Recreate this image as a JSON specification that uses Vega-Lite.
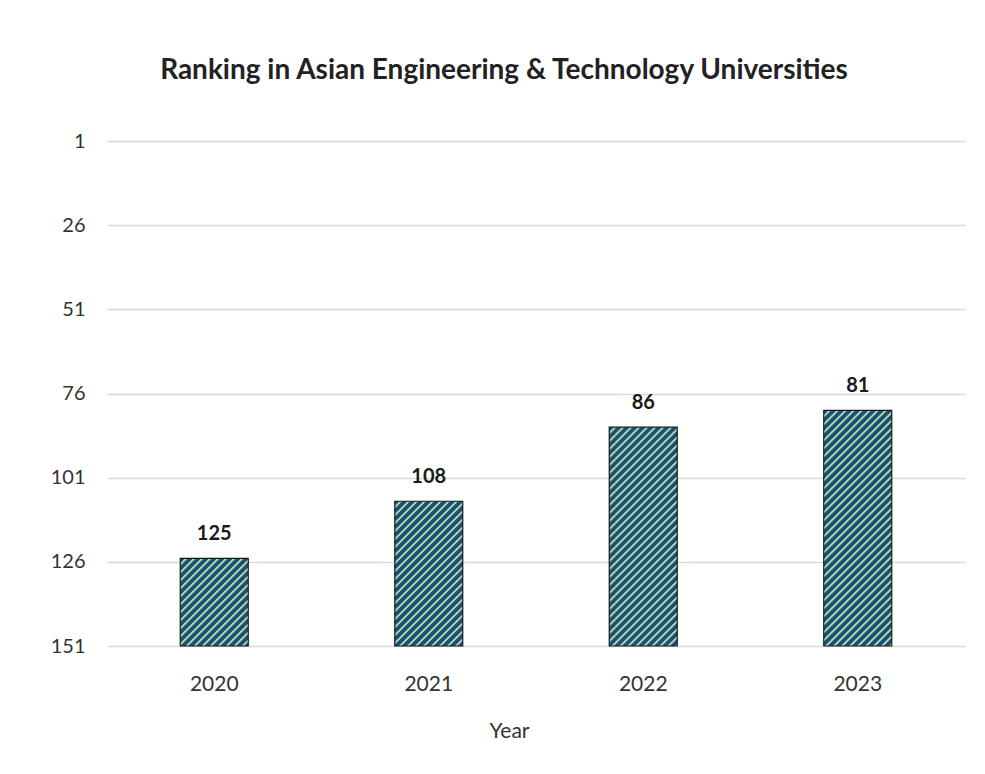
{
"$schema": "https://vega.github.io/schema/vega-lite/v6.json",
"width": 858,
"height": 505,
"autosize": {"type": "none"},
"padding": {"left": 107, "top": 141, "right": 20, "bottom": 128},
"background": "white",
"config": {"view": {"stroke": null}, "font": "Lato"},
"title": {"text": "Ranking in Asian Engineering & Technology Universities", "fontSize": 28, "fontWeight": "bold", "color": "#222222", "anchor": "middle", "dx": -32, "offset": 24, "baseline": "alphabetic"},
"data": {"values": [
{"Year": "2020", "Rank": 125},
{"Year": "2021", "Rank": 108},
{"Year": "2022", "Rank": 86},
{"Year": "2023", "Rank": 81}
]},
"encoding": {
"x": {"field": "Year", "type": "nominal", "scale": {"paddingInner": 0.683, "paddingOuter": 0.3415},
"axis": {"labelAngle": 0, "domain": false, "ticks": false, "labelFontSize": 21, "labelPadding": 27, "labelColor": "#333333", "title": "Year", "titleFontSize": 21, "titleFontWeight": "normal", "titleColor": "#333333", "titlePadding": 26, "titleX": 402}},
"y": {"field": "Rank", "type": "quantitative", "scale": {"domain": [1, 151], "reverse": true, "nice": false, "zero": false},
"axis": {"values": [1, 26, 51, 76, 101, 126, 151], "title": null, "domain": false, "ticks": false, "labelFontSize": 20, "labelPadding": 22, "labelColor": "#333333", "gridColor": "#d9d9d9", "gridWidth": 1.3}}
},
"layer": [
{"mark": {"type": "bar", "stroke": "#1a1a1a", "strokeWidth": 1.2},
"encoding": {"y2": {"datum": 151},
"fill": {"condition": [
{"test": "datum.Year === '2020'", "value": {"gradient": "linear", "x1": 0, "y1": 0, "x2": 1.7712, "y2": 2.2799, "stops": [{"offset":0,"color":"#1f4f78"},{"offset":0.013,"color":"#1f4f78"},{"offset":0.0165,"color":"#a5dba6"},{"offset":0.0215,"color":"#a5dba6"},{"offset":0.025,"color":"#1f4f78"},{"offset":0.038,"color":"#1f4f78"},{"offset":0.0415,"color":"#a5dba6"},{"offset":0.0465,"color":"#a5dba6"},{"offset":0.05,"color":"#1f4f78"},{"offset":0.063,"color":"#1f4f78"},{"offset":0.0665,"color":"#a5dba6"},{"offset":0.0715,"color":"#a5dba6"},{"offset":0.075,"color":"#1f4f78"},{"offset":0.088,"color":"#1f4f78"},{"offset":0.0915,"color":"#a5dba6"},{"offset":0.0965,"color":"#a5dba6"},{"offset":0.1,"color":"#1f4f78"},{"offset":0.113,"color":"#1f4f78"},{"offset":0.1165,"color":"#a5dba6"},{"offset":0.1215,"color":"#a5dba6"},{"offset":0.125,"color":"#1f4f78"},{"offset":0.138,"color":"#1f4f78"},{"offset":0.1415,"color":"#a5dba6"},{"offset":0.1465,"color":"#a5dba6"},{"offset":0.15,"color":"#1f4f78"},{"offset":0.163,"color":"#1f4f78"},{"offset":0.1665,"color":"#a5dba6"},{"offset":0.1715,"color":"#a5dba6"},{"offset":0.175,"color":"#1f4f78"},{"offset":0.188,"color":"#1f4f78"},{"offset":0.1915,"color":"#a5dba6"},{"offset":0.1965,"color":"#a5dba6"},{"offset":0.2,"color":"#1f4f78"},{"offset":0.213,"color":"#1f4f78"},{"offset":0.2165,"color":"#a5dba6"},{"offset":0.2215,"color":"#a5dba6"},{"offset":0.225,"color":"#1f4f78"},{"offset":0.238,"color":"#1f4f78"},{"offset":0.2415,"color":"#a5dba6"},{"offset":0.2465,"color":"#a5dba6"},{"offset":0.25,"color":"#1f4f78"},{"offset":0.263,"color":"#1f4f78"},{"offset":0.2665,"color":"#a5dba6"},{"offset":0.2715,"color":"#a5dba6"},{"offset":0.275,"color":"#1f4f78"},{"offset":0.288,"color":"#1f4f78"},{"offset":0.2915,"color":"#a5dba6"},{"offset":0.2965,"color":"#a5dba6"},{"offset":0.3,"color":"#1f4f78"},{"offset":0.313,"color":"#1f4f78"},{"offset":0.3165,"color":"#a5dba6"},{"offset":0.3215,"color":"#a5dba6"},{"offset":0.325,"color":"#1f4f78"},{"offset":0.338,"color":"#1f4f78"},{"offset":0.3415,"color":"#a5dba6"},{"offset":0.3465,"color":"#a5dba6"},{"offset":0.35,"color":"#1f4f78"},{"offset":0.363,"color":"#1f4f78"},{"offset":0.3665,"color":"#a5dba6"},{"offset":0.3715,"color":"#a5dba6"},{"offset":0.375,"color":"#1f4f78"},{"offset":0.388,"color":"#1f4f78"},{"offset":0.3915,"color":"#a5dba6"},{"offset":0.3965,"color":"#a5dba6"},{"offset":0.4,"color":"#1f4f78"},{"offset":0.413,"color":"#1f4f78"},{"offset":0.4165,"color":"#a5dba6"},{"offset":0.4215,"color":"#a5dba6"},{"offset":0.425,"color":"#1f4f78"},{"offset":0.438,"color":"#1f4f78"},{"offset":0.4415,"color":"#a5dba6"},{"offset":0.4465,"color":"#a5dba6"},{"offset":0.45,"color":"#1f4f78"},{"offset":0.463,"color":"#1f4f78"},{"offset":0.4665,"color":"#a5dba6"},{"offset":0.4715,"color":"#a5dba6"},{"offset":0.475,"color":"#1f4f78"},{"offset":0.488,"color":"#1f4f78"},{"offset":0.4915,"color":"#a5dba6"},{"offset":0.4965,"color":"#a5dba6"},{"offset":0.5,"color":"#1f4f78"},{"offset":0.513,"color":"#1f4f78"},{"offset":0.5165,"color":"#a5dba6"},{"offset":0.5215,"color":"#a5dba6"},{"offset":0.525,"color":"#1f4f78"},{"offset":0.538,"color":"#1f4f78"},{"offset":0.5415,"color":"#a5dba6"},{"offset":0.5465,"color":"#a5dba6"},{"offset":0.55,"color":"#1f4f78"},{"offset":0.563,"color":"#1f4f78"},{"offset":0.5665,"color":"#a5dba6"},{"offset":0.5715,"color":"#a5dba6"},{"offset":0.575,"color":"#1f4f78"},{"offset":0.588,"color":"#1f4f78"},{"offset":0.5915,"color":"#a5dba6"},{"offset":0.5965,"color":"#a5dba6"},{"offset":0.6,"color":"#1f4f78"},{"offset":0.613,"color":"#1f4f78"},{"offset":0.6165,"color":"#a5dba6"},{"offset":0.6215,"color":"#a5dba6"},{"offset":0.625,"color":"#1f4f78"},{"offset":0.638,"color":"#1f4f78"},{"offset":0.6415,"color":"#a5dba6"},{"offset":0.6465,"color":"#a5dba6"},{"offset":0.65,"color":"#1f4f78"},{"offset":0.663,"color":"#1f4f78"},{"offset":0.6665,"color":"#a5dba6"},{"offset":0.6715,"color":"#a5dba6"},{"offset":0.675,"color":"#1f4f78"},{"offset":0.688,"color":"#1f4f78"},{"offset":0.6915,"color":"#a5dba6"},{"offset":0.6965,"color":"#a5dba6"},{"offset":0.7,"color":"#1f4f78"},{"offset":0.713,"color":"#1f4f78"},{"offset":0.7165,"color":"#a5dba6"},{"offset":0.7215,"color":"#a5dba6"},{"offset":0.725,"color":"#1f4f78"},{"offset":0.738,"color":"#1f4f78"},{"offset":0.7415,"color":"#a5dba6"},{"offset":0.7465,"color":"#a5dba6"},{"offset":0.75,"color":"#1f4f78"},{"offset":0.763,"color":"#1f4f78"},{"offset":0.7665,"color":"#a5dba6"},{"offset":0.7715,"color":"#a5dba6"},{"offset":0.775,"color":"#1f4f78"},{"offset":0.788,"color":"#1f4f78"},{"offset":0.7915,"color":"#a5dba6"},{"offset":0.7965,"color":"#a5dba6"},{"offset":0.8,"color":"#1f4f78"},{"offset":0.813,"color":"#1f4f78"},{"offset":0.8165,"color":"#a5dba6"},{"offset":0.8215,"color":"#a5dba6"},{"offset":0.825,"color":"#1f4f78"},{"offset":0.838,"color":"#1f4f78"},{"offset":0.8415,"color":"#a5dba6"},{"offset":0.8465,"color":"#a5dba6"},{"offset":0.85,"color":"#1f4f78"},{"offset":0.863,"color":"#1f4f78"},{"offset":0.8665,"color":"#a5dba6"},{"offset":0.8715,"color":"#a5dba6"},{"offset":0.875,"color":"#1f4f78"},{"offset":0.888,"color":"#1f4f78"},{"offset":0.8915,"color":"#a5dba6"},{"offset":0.8965,"color":"#a5dba6"},{"offset":0.9,"color":"#1f4f78"},{"offset":0.913,"color":"#1f4f78"},{"offset":0.9165,"color":"#a5dba6"},{"offset":0.9215,"color":"#a5dba6"},{"offset":0.925,"color":"#1f4f78"},{"offset":0.938,"color":"#1f4f78"},{"offset":0.9415,"color":"#a5dba6"},{"offset":0.9465,"color":"#a5dba6"},{"offset":0.95,"color":"#1f4f78"},{"offset":0.963,"color":"#1f4f78"},{"offset":0.9665,"color":"#a5dba6"},{"offset":0.9715,"color":"#a5dba6"},{"offset":0.975,"color":"#1f4f78"},{"offset":0.988,"color":"#1f4f78"},{"offset":0.9915,"color":"#a5dba6"},{"offset":0.9965,"color":"#a5dba6"},{"offset":1,"color":"#1f4f78"}]}},
{"test": "datum.Year === '2021'", "value": {"gradient": "linear", "x1": 0, "y1": 0, "x2": 0.8506, "y2": 1.8109, "stops": [{"offset":0,"color":"#1f4f78"},{"offset":0.013,"color":"#1f4f78"},{"offset":0.0165,"color":"#a5dba6"},{"offset":0.0215,"color":"#a5dba6"},{"offset":0.025,"color":"#1f4f78"},{"offset":0.038,"color":"#1f4f78"},{"offset":0.0415,"color":"#a5dba6"},{"offset":0.0465,"color":"#a5dba6"},{"offset":0.05,"color":"#1f4f78"},{"offset":0.063,"color":"#1f4f78"},{"offset":0.0665,"color":"#a5dba6"},{"offset":0.0715,"color":"#a5dba6"},{"offset":0.075,"color":"#1f4f78"},{"offset":0.088,"color":"#1f4f78"},{"offset":0.0915,"color":"#a5dba6"},{"offset":0.0965,"color":"#a5dba6"},{"offset":0.1,"color":"#1f4f78"},{"offset":0.113,"color":"#1f4f78"},{"offset":0.1165,"color":"#a5dba6"},{"offset":0.1215,"color":"#a5dba6"},{"offset":0.125,"color":"#1f4f78"},{"offset":0.138,"color":"#1f4f78"},{"offset":0.1415,"color":"#a5dba6"},{"offset":0.1465,"color":"#a5dba6"},{"offset":0.15,"color":"#1f4f78"},{"offset":0.163,"color":"#1f4f78"},{"offset":0.1665,"color":"#a5dba6"},{"offset":0.1715,"color":"#a5dba6"},{"offset":0.175,"color":"#1f4f78"},{"offset":0.188,"color":"#1f4f78"},{"offset":0.1915,"color":"#a5dba6"},{"offset":0.1965,"color":"#a5dba6"},{"offset":0.2,"color":"#1f4f78"},{"offset":0.213,"color":"#1f4f78"},{"offset":0.2165,"color":"#a5dba6"},{"offset":0.2215,"color":"#a5dba6"},{"offset":0.225,"color":"#1f4f78"},{"offset":0.238,"color":"#1f4f78"},{"offset":0.2415,"color":"#a5dba6"},{"offset":0.2465,"color":"#a5dba6"},{"offset":0.25,"color":"#1f4f78"},{"offset":0.263,"color":"#1f4f78"},{"offset":0.2665,"color":"#a5dba6"},{"offset":0.2715,"color":"#a5dba6"},{"offset":0.275,"color":"#1f4f78"},{"offset":0.288,"color":"#1f4f78"},{"offset":0.2915,"color":"#a5dba6"},{"offset":0.2965,"color":"#a5dba6"},{"offset":0.3,"color":"#1f4f78"},{"offset":0.313,"color":"#1f4f78"},{"offset":0.3165,"color":"#a5dba6"},{"offset":0.3215,"color":"#a5dba6"},{"offset":0.325,"color":"#1f4f78"},{"offset":0.338,"color":"#1f4f78"},{"offset":0.3415,"color":"#a5dba6"},{"offset":0.3465,"color":"#a5dba6"},{"offset":0.35,"color":"#1f4f78"},{"offset":0.363,"color":"#1f4f78"},{"offset":0.3665,"color":"#a5dba6"},{"offset":0.3715,"color":"#a5dba6"},{"offset":0.375,"color":"#1f4f78"},{"offset":0.388,"color":"#1f4f78"},{"offset":0.3915,"color":"#a5dba6"},{"offset":0.3965,"color":"#a5dba6"},{"offset":0.4,"color":"#1f4f78"},{"offset":0.413,"color":"#1f4f78"},{"offset":0.4165,"color":"#a5dba6"},{"offset":0.4215,"color":"#a5dba6"},{"offset":0.425,"color":"#1f4f78"},{"offset":0.438,"color":"#1f4f78"},{"offset":0.4415,"color":"#a5dba6"},{"offset":0.4465,"color":"#a5dba6"},{"offset":0.45,"color":"#1f4f78"},{"offset":0.463,"color":"#1f4f78"},{"offset":0.4665,"color":"#a5dba6"},{"offset":0.4715,"color":"#a5dba6"},{"offset":0.475,"color":"#1f4f78"},{"offset":0.488,"color":"#1f4f78"},{"offset":0.4915,"color":"#a5dba6"},{"offset":0.4965,"color":"#a5dba6"},{"offset":0.5,"color":"#1f4f78"},{"offset":0.513,"color":"#1f4f78"},{"offset":0.5165,"color":"#a5dba6"},{"offset":0.5215,"color":"#a5dba6"},{"offset":0.525,"color":"#1f4f78"},{"offset":0.538,"color":"#1f4f78"},{"offset":0.5415,"color":"#a5dba6"},{"offset":0.5465,"color":"#a5dba6"},{"offset":0.55,"color":"#1f4f78"},{"offset":0.563,"color":"#1f4f78"},{"offset":0.5665,"color":"#a5dba6"},{"offset":0.5715,"color":"#a5dba6"},{"offset":0.575,"color":"#1f4f78"},{"offset":0.588,"color":"#1f4f78"},{"offset":0.5915,"color":"#a5dba6"},{"offset":0.5965,"color":"#a5dba6"},{"offset":0.6,"color":"#1f4f78"},{"offset":0.613,"color":"#1f4f78"},{"offset":0.6165,"color":"#a5dba6"},{"offset":0.6215,"color":"#a5dba6"},{"offset":0.625,"color":"#1f4f78"},{"offset":0.638,"color":"#1f4f78"},{"offset":0.6415,"color":"#a5dba6"},{"offset":0.6465,"color":"#a5dba6"},{"offset":0.65,"color":"#1f4f78"},{"offset":0.663,"color":"#1f4f78"},{"offset":0.6665,"color":"#a5dba6"},{"offset":0.6715,"color":"#a5dba6"},{"offset":0.675,"color":"#1f4f78"},{"offset":0.688,"color":"#1f4f78"},{"offset":0.6915,"color":"#a5dba6"},{"offset":0.6965,"color":"#a5dba6"},{"offset":0.7,"color":"#1f4f78"},{"offset":0.713,"color":"#1f4f78"},{"offset":0.7165,"color":"#a5dba6"},{"offset":0.7215,"color":"#a5dba6"},{"offset":0.725,"color":"#1f4f78"},{"offset":0.738,"color":"#1f4f78"},{"offset":0.7415,"color":"#a5dba6"},{"offset":0.7465,"color":"#a5dba6"},{"offset":0.75,"color":"#1f4f78"},{"offset":0.763,"color":"#1f4f78"},{"offset":0.7665,"color":"#a5dba6"},{"offset":0.7715,"color":"#a5dba6"},{"offset":0.775,"color":"#1f4f78"},{"offset":0.788,"color":"#1f4f78"},{"offset":0.7915,"color":"#a5dba6"},{"offset":0.7965,"color":"#a5dba6"},{"offset":0.8,"color":"#1f4f78"},{"offset":0.813,"color":"#1f4f78"},{"offset":0.8165,"color":"#a5dba6"},{"offset":0.8215,"color":"#a5dba6"},{"offset":0.825,"color":"#1f4f78"},{"offset":0.838,"color":"#1f4f78"},{"offset":0.8415,"color":"#a5dba6"},{"offset":0.8465,"color":"#a5dba6"},{"offset":0.85,"color":"#1f4f78"},{"offset":0.863,"color":"#1f4f78"},{"offset":0.8665,"color":"#a5dba6"},{"offset":0.8715,"color":"#a5dba6"},{"offset":0.875,"color":"#1f4f78"},{"offset":0.888,"color":"#1f4f78"},{"offset":0.8915,"color":"#a5dba6"},{"offset":0.8965,"color":"#a5dba6"},{"offset":0.9,"color":"#1f4f78"},{"offset":0.913,"color":"#1f4f78"},{"offset":0.9165,"color":"#a5dba6"},{"offset":0.9215,"color":"#a5dba6"},{"offset":0.925,"color":"#1f4f78"},{"offset":0.938,"color":"#1f4f78"},{"offset":0.9415,"color":"#a5dba6"},{"offset":0.9465,"color":"#a5dba6"},{"offset":0.95,"color":"#1f4f78"},{"offset":0.963,"color":"#1f4f78"},{"offset":0.9665,"color":"#a5dba6"},{"offset":0.9715,"color":"#a5dba6"},{"offset":0.975,"color":"#1f4f78"},{"offset":0.988,"color":"#1f4f78"},{"offset":0.9915,"color":"#a5dba6"},{"offset":0.9965,"color":"#a5dba6"},{"offset":1,"color":"#1f4f78"}]}},
{"test": "datum.Year === '2022'", "value": {"gradient": "linear", "x1": 0, "y1": 0, "x2": 0.4144, "y2": 1.3336, "stops": [{"offset":0,"color":"#1f4f78"},{"offset":0.013,"color":"#1f4f78"},{"offset":0.0165,"color":"#a5dba6"},{"offset":0.0215,"color":"#a5dba6"},{"offset":0.025,"color":"#1f4f78"},{"offset":0.038,"color":"#1f4f78"},{"offset":0.0415,"color":"#a5dba6"},{"offset":0.0465,"color":"#a5dba6"},{"offset":0.05,"color":"#1f4f78"},{"offset":0.063,"color":"#1f4f78"},{"offset":0.0665,"color":"#a5dba6"},{"offset":0.0715,"color":"#a5dba6"},{"offset":0.075,"color":"#1f4f78"},{"offset":0.088,"color":"#1f4f78"},{"offset":0.0915,"color":"#a5dba6"},{"offset":0.0965,"color":"#a5dba6"},{"offset":0.1,"color":"#1f4f78"},{"offset":0.113,"color":"#1f4f78"},{"offset":0.1165,"color":"#a5dba6"},{"offset":0.1215,"color":"#a5dba6"},{"offset":0.125,"color":"#1f4f78"},{"offset":0.138,"color":"#1f4f78"},{"offset":0.1415,"color":"#a5dba6"},{"offset":0.1465,"color":"#a5dba6"},{"offset":0.15,"color":"#1f4f78"},{"offset":0.163,"color":"#1f4f78"},{"offset":0.1665,"color":"#a5dba6"},{"offset":0.1715,"color":"#a5dba6"},{"offset":0.175,"color":"#1f4f78"},{"offset":0.188,"color":"#1f4f78"},{"offset":0.1915,"color":"#a5dba6"},{"offset":0.1965,"color":"#a5dba6"},{"offset":0.2,"color":"#1f4f78"},{"offset":0.213,"color":"#1f4f78"},{"offset":0.2165,"color":"#a5dba6"},{"offset":0.2215,"color":"#a5dba6"},{"offset":0.225,"color":"#1f4f78"},{"offset":0.238,"color":"#1f4f78"},{"offset":0.2415,"color":"#a5dba6"},{"offset":0.2465,"color":"#a5dba6"},{"offset":0.25,"color":"#1f4f78"},{"offset":0.263,"color":"#1f4f78"},{"offset":0.2665,"color":"#a5dba6"},{"offset":0.2715,"color":"#a5dba6"},{"offset":0.275,"color":"#1f4f78"},{"offset":0.288,"color":"#1f4f78"},{"offset":0.2915,"color":"#a5dba6"},{"offset":0.2965,"color":"#a5dba6"},{"offset":0.3,"color":"#1f4f78"},{"offset":0.313,"color":"#1f4f78"},{"offset":0.3165,"color":"#a5dba6"},{"offset":0.3215,"color":"#a5dba6"},{"offset":0.325,"color":"#1f4f78"},{"offset":0.338,"color":"#1f4f78"},{"offset":0.3415,"color":"#a5dba6"},{"offset":0.3465,"color":"#a5dba6"},{"offset":0.35,"color":"#1f4f78"},{"offset":0.363,"color":"#1f4f78"},{"offset":0.3665,"color":"#a5dba6"},{"offset":0.3715,"color":"#a5dba6"},{"offset":0.375,"color":"#1f4f78"},{"offset":0.388,"color":"#1f4f78"},{"offset":0.3915,"color":"#a5dba6"},{"offset":0.3965,"color":"#a5dba6"},{"offset":0.4,"color":"#1f4f78"},{"offset":0.413,"color":"#1f4f78"},{"offset":0.4165,"color":"#a5dba6"},{"offset":0.4215,"color":"#a5dba6"},{"offset":0.425,"color":"#1f4f78"},{"offset":0.438,"color":"#1f4f78"},{"offset":0.4415,"color":"#a5dba6"},{"offset":0.4465,"color":"#a5dba6"},{"offset":0.45,"color":"#1f4f78"},{"offset":0.463,"color":"#1f4f78"},{"offset":0.4665,"color":"#a5dba6"},{"offset":0.4715,"color":"#a5dba6"},{"offset":0.475,"color":"#1f4f78"},{"offset":0.488,"color":"#1f4f78"},{"offset":0.4915,"color":"#a5dba6"},{"offset":0.4965,"color":"#a5dba6"},{"offset":0.5,"color":"#1f4f78"},{"offset":0.513,"color":"#1f4f78"},{"offset":0.5165,"color":"#a5dba6"},{"offset":0.5215,"color":"#a5dba6"},{"offset":0.525,"color":"#1f4f78"},{"offset":0.538,"color":"#1f4f78"},{"offset":0.5415,"color":"#a5dba6"},{"offset":0.5465,"color":"#a5dba6"},{"offset":0.55,"color":"#1f4f78"},{"offset":0.563,"color":"#1f4f78"},{"offset":0.5665,"color":"#a5dba6"},{"offset":0.5715,"color":"#a5dba6"},{"offset":0.575,"color":"#1f4f78"},{"offset":0.588,"color":"#1f4f78"},{"offset":0.5915,"color":"#a5dba6"},{"offset":0.5965,"color":"#a5dba6"},{"offset":0.6,"color":"#1f4f78"},{"offset":0.613,"color":"#1f4f78"},{"offset":0.6165,"color":"#a5dba6"},{"offset":0.6215,"color":"#a5dba6"},{"offset":0.625,"color":"#1f4f78"},{"offset":0.638,"color":"#1f4f78"},{"offset":0.6415,"color":"#a5dba6"},{"offset":0.6465,"color":"#a5dba6"},{"offset":0.65,"color":"#1f4f78"},{"offset":0.663,"color":"#1f4f78"},{"offset":0.6665,"color":"#a5dba6"},{"offset":0.6715,"color":"#a5dba6"},{"offset":0.675,"color":"#1f4f78"},{"offset":0.688,"color":"#1f4f78"},{"offset":0.6915,"color":"#a5dba6"},{"offset":0.6965,"color":"#a5dba6"},{"offset":0.7,"color":"#1f4f78"},{"offset":0.713,"color":"#1f4f78"},{"offset":0.7165,"color":"#a5dba6"},{"offset":0.7215,"color":"#a5dba6"},{"offset":0.725,"color":"#1f4f78"},{"offset":0.738,"color":"#1f4f78"},{"offset":0.7415,"color":"#a5dba6"},{"offset":0.7465,"color":"#a5dba6"},{"offset":0.75,"color":"#1f4f78"},{"offset":0.763,"color":"#1f4f78"},{"offset":0.7665,"color":"#a5dba6"},{"offset":0.7715,"color":"#a5dba6"},{"offset":0.775,"color":"#1f4f78"},{"offset":0.788,"color":"#1f4f78"},{"offset":0.7915,"color":"#a5dba6"},{"offset":0.7965,"color":"#a5dba6"},{"offset":0.8,"color":"#1f4f78"},{"offset":0.813,"color":"#1f4f78"},{"offset":0.8165,"color":"#a5dba6"},{"offset":0.8215,"color":"#a5dba6"},{"offset":0.825,"color":"#1f4f78"},{"offset":0.838,"color":"#1f4f78"},{"offset":0.8415,"color":"#a5dba6"},{"offset":0.8465,"color":"#a5dba6"},{"offset":0.85,"color":"#1f4f78"},{"offset":0.863,"color":"#1f4f78"},{"offset":0.8665,"color":"#a5dba6"},{"offset":0.8715,"color":"#a5dba6"},{"offset":0.875,"color":"#1f4f78"},{"offset":0.888,"color":"#1f4f78"},{"offset":0.8915,"color":"#a5dba6"},{"offset":0.8965,"color":"#a5dba6"},{"offset":0.9,"color":"#1f4f78"},{"offset":0.913,"color":"#1f4f78"},{"offset":0.9165,"color":"#a5dba6"},{"offset":0.9215,"color":"#a5dba6"},{"offset":0.925,"color":"#1f4f78"},{"offset":0.938,"color":"#1f4f78"},{"offset":0.9415,"color":"#a5dba6"},{"offset":0.9465,"color":"#a5dba6"},{"offset":0.95,"color":"#1f4f78"},{"offset":0.963,"color":"#1f4f78"},{"offset":0.9665,"color":"#a5dba6"},{"offset":0.9715,"color":"#a5dba6"},{"offset":0.975,"color":"#1f4f78"},{"offset":0.988,"color":"#1f4f78"},{"offset":0.9915,"color":"#a5dba6"},{"offset":0.9965,"color":"#a5dba6"},{"offset":1,"color":"#1f4f78"}]}},
{"test": "datum.Year === '2023'", "value": {"gradient": "linear", "x1": 0, "y1": 0, "x2": 0.3617, "y2": 1.2535, "stops": [{"offset":0,"color":"#1f4f78"},{"offset":0.013,"color":"#1f4f78"},{"offset":0.0165,"color":"#a5dba6"},{"offset":0.0215,"color":"#a5dba6"},{"offset":0.025,"color":"#1f4f78"},{"offset":0.038,"color":"#1f4f78"},{"offset":0.0415,"color":"#a5dba6"},{"offset":0.0465,"color":"#a5dba6"},{"offset":0.05,"color":"#1f4f78"},{"offset":0.063,"color":"#1f4f78"},{"offset":0.0665,"color":"#a5dba6"},{"offset":0.0715,"color":"#a5dba6"},{"offset":0.075,"color":"#1f4f78"},{"offset":0.088,"color":"#1f4f78"},{"offset":0.0915,"color":"#a5dba6"},{"offset":0.0965,"color":"#a5dba6"},{"offset":0.1,"color":"#1f4f78"},{"offset":0.113,"color":"#1f4f78"},{"offset":0.1165,"color":"#a5dba6"},{"offset":0.1215,"color":"#a5dba6"},{"offset":0.125,"color":"#1f4f78"},{"offset":0.138,"color":"#1f4f78"},{"offset":0.1415,"color":"#a5dba6"},{"offset":0.1465,"color":"#a5dba6"},{"offset":0.15,"color":"#1f4f78"},{"offset":0.163,"color":"#1f4f78"},{"offset":0.1665,"color":"#a5dba6"},{"offset":0.1715,"color":"#a5dba6"},{"offset":0.175,"color":"#1f4f78"},{"offset":0.188,"color":"#1f4f78"},{"offset":0.1915,"color":"#a5dba6"},{"offset":0.1965,"color":"#a5dba6"},{"offset":0.2,"color":"#1f4f78"},{"offset":0.213,"color":"#1f4f78"},{"offset":0.2165,"color":"#a5dba6"},{"offset":0.2215,"color":"#a5dba6"},{"offset":0.225,"color":"#1f4f78"},{"offset":0.238,"color":"#1f4f78"},{"offset":0.2415,"color":"#a5dba6"},{"offset":0.2465,"color":"#a5dba6"},{"offset":0.25,"color":"#1f4f78"},{"offset":0.263,"color":"#1f4f78"},{"offset":0.2665,"color":"#a5dba6"},{"offset":0.2715,"color":"#a5dba6"},{"offset":0.275,"color":"#1f4f78"},{"offset":0.288,"color":"#1f4f78"},{"offset":0.2915,"color":"#a5dba6"},{"offset":0.2965,"color":"#a5dba6"},{"offset":0.3,"color":"#1f4f78"},{"offset":0.313,"color":"#1f4f78"},{"offset":0.3165,"color":"#a5dba6"},{"offset":0.3215,"color":"#a5dba6"},{"offset":0.325,"color":"#1f4f78"},{"offset":0.338,"color":"#1f4f78"},{"offset":0.3415,"color":"#a5dba6"},{"offset":0.3465,"color":"#a5dba6"},{"offset":0.35,"color":"#1f4f78"},{"offset":0.363,"color":"#1f4f78"},{"offset":0.3665,"color":"#a5dba6"},{"offset":0.3715,"color":"#a5dba6"},{"offset":0.375,"color":"#1f4f78"},{"offset":0.388,"color":"#1f4f78"},{"offset":0.3915,"color":"#a5dba6"},{"offset":0.3965,"color":"#a5dba6"},{"offset":0.4,"color":"#1f4f78"},{"offset":0.413,"color":"#1f4f78"},{"offset":0.4165,"color":"#a5dba6"},{"offset":0.4215,"color":"#a5dba6"},{"offset":0.425,"color":"#1f4f78"},{"offset":0.438,"color":"#1f4f78"},{"offset":0.4415,"color":"#a5dba6"},{"offset":0.4465,"color":"#a5dba6"},{"offset":0.45,"color":"#1f4f78"},{"offset":0.463,"color":"#1f4f78"},{"offset":0.4665,"color":"#a5dba6"},{"offset":0.4715,"color":"#a5dba6"},{"offset":0.475,"color":"#1f4f78"},{"offset":0.488,"color":"#1f4f78"},{"offset":0.4915,"color":"#a5dba6"},{"offset":0.4965,"color":"#a5dba6"},{"offset":0.5,"color":"#1f4f78"},{"offset":0.513,"color":"#1f4f78"},{"offset":0.5165,"color":"#a5dba6"},{"offset":0.5215,"color":"#a5dba6"},{"offset":0.525,"color":"#1f4f78"},{"offset":0.538,"color":"#1f4f78"},{"offset":0.5415,"color":"#a5dba6"},{"offset":0.5465,"color":"#a5dba6"},{"offset":0.55,"color":"#1f4f78"},{"offset":0.563,"color":"#1f4f78"},{"offset":0.5665,"color":"#a5dba6"},{"offset":0.5715,"color":"#a5dba6"},{"offset":0.575,"color":"#1f4f78"},{"offset":0.588,"color":"#1f4f78"},{"offset":0.5915,"color":"#a5dba6"},{"offset":0.5965,"color":"#a5dba6"},{"offset":0.6,"color":"#1f4f78"},{"offset":0.613,"color":"#1f4f78"},{"offset":0.6165,"color":"#a5dba6"},{"offset":0.6215,"color":"#a5dba6"},{"offset":0.625,"color":"#1f4f78"},{"offset":0.638,"color":"#1f4f78"},{"offset":0.6415,"color":"#a5dba6"},{"offset":0.6465,"color":"#a5dba6"},{"offset":0.65,"color":"#1f4f78"},{"offset":0.663,"color":"#1f4f78"},{"offset":0.6665,"color":"#a5dba6"},{"offset":0.6715,"color":"#a5dba6"},{"offset":0.675,"color":"#1f4f78"},{"offset":0.688,"color":"#1f4f78"},{"offset":0.6915,"color":"#a5dba6"},{"offset":0.6965,"color":"#a5dba6"},{"offset":0.7,"color":"#1f4f78"},{"offset":0.713,"color":"#1f4f78"},{"offset":0.7165,"color":"#a5dba6"},{"offset":0.7215,"color":"#a5dba6"},{"offset":0.725,"color":"#1f4f78"},{"offset":0.738,"color":"#1f4f78"},{"offset":0.7415,"color":"#a5dba6"},{"offset":0.7465,"color":"#a5dba6"},{"offset":0.75,"color":"#1f4f78"},{"offset":0.763,"color":"#1f4f78"},{"offset":0.7665,"color":"#a5dba6"},{"offset":0.7715,"color":"#a5dba6"},{"offset":0.775,"color":"#1f4f78"},{"offset":0.788,"color":"#1f4f78"},{"offset":0.7915,"color":"#a5dba6"},{"offset":0.7965,"color":"#a5dba6"},{"offset":0.8,"color":"#1f4f78"},{"offset":0.813,"color":"#1f4f78"},{"offset":0.8165,"color":"#a5dba6"},{"offset":0.8215,"color":"#a5dba6"},{"offset":0.825,"color":"#1f4f78"},{"offset":0.838,"color":"#1f4f78"},{"offset":0.8415,"color":"#a5dba6"},{"offset":0.8465,"color":"#a5dba6"},{"offset":0.85,"color":"#1f4f78"},{"offset":0.863,"color":"#1f4f78"},{"offset":0.8665,"color":"#a5dba6"},{"offset":0.8715,"color":"#a5dba6"},{"offset":0.875,"color":"#1f4f78"},{"offset":0.888,"color":"#1f4f78"},{"offset":0.8915,"color":"#a5dba6"},{"offset":0.8965,"color":"#a5dba6"},{"offset":0.9,"color":"#1f4f78"},{"offset":0.913,"color":"#1f4f78"},{"offset":0.9165,"color":"#a5dba6"},{"offset":0.9215,"color":"#a5dba6"},{"offset":0.925,"color":"#1f4f78"},{"offset":0.938,"color":"#1f4f78"},{"offset":0.9415,"color":"#a5dba6"},{"offset":0.9465,"color":"#a5dba6"},{"offset":0.95,"color":"#1f4f78"},{"offset":0.963,"color":"#1f4f78"},{"offset":0.9665,"color":"#a5dba6"},{"offset":0.9715,"color":"#a5dba6"},{"offset":0.975,"color":"#1f4f78"},{"offset":0.988,"color":"#1f4f78"},{"offset":0.9915,"color":"#a5dba6"},{"offset":0.9965,"color":"#a5dba6"},{"offset":1,"color":"#1f4f78"}]}}
], "value": "#1f4f78"}}},
{"mark": {"type": "text", "dy": -24, "baseline": "middle", "fontSize": 20, "fontWeight": "bold", "color": "#1a1a1a"},
"encoding": {"text": {"field": "Rank"}}}
]
}
